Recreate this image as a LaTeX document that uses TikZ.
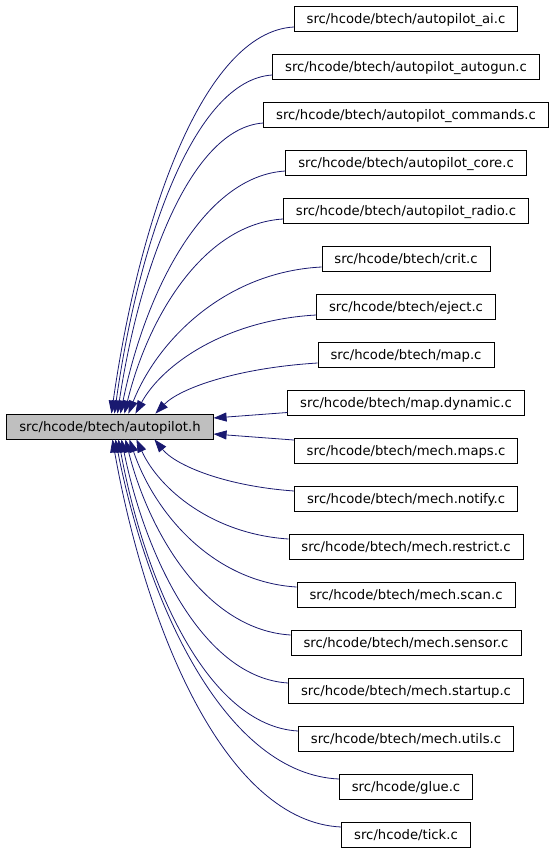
\documentclass[tikz,border=0pt]{standalone}
\usepackage{fontspec}
\setmainfont{DejaVu Sans}
\usetikzlibrary{arrows.meta,calc}
\definecolor{edgeblue}{HTML}{191970}
\definecolor{mainfill}{HTML}{BFBFBF}
\newcommand\upedge[2]{%
  \draw[edge] let \p1=($(#1.west)+(0,8)$), \p2=($(main.north west)+(#2,0)$),
    \n1={\x1-\x2}, \n2={\y1-\y2} in
    (\p1) .. controls +({-0.5*\n1*1pt},{-5pt}) and +({0.15*\n1*1pt},{0.5*\n2*1pt}) .. (\p2);}
\newcommand\downedge[2]{%
  \draw[edge] let \p1=($(#1.west)+(0,-8)$), \p2=($(main.south west)+(#2,0)$),
    \n1={\x1-\x2}, \n2={\y2-\y1} in
    (\p1) .. controls +({-0.5*\n1*1pt},{5pt}) and +({0.15*\n1*1pt},{-0.5*\n2*1pt}) .. (\p2);}
\begin{document}
\begin{tikzpicture}[x=1pt,y=-1pt,
  filebox/.style={draw=black,line width=0.8pt,fill=white,inner xsep=12.5pt,inner ysep=0pt,
    minimum height=25pt,font=\fontsize{13.2pt}{15pt}\selectfont,text height=10.5pt,text depth=1.5pt},
  mainbox/.style={filebox,fill=mainfill},
  edge/.style={draw=edgeblue,line width=0.8pt,-{Triangle[length=13pt,width=9pt]}}]
\useasboundingbox (0,0) rectangle (555,851);
\node[mainbox] (main) at (110,426.5) {src/hcode/btech/autopilot.h};
\foreach \i/\t in {1/{src/hcode/btech/autopilot\_ai.c},
  2/{src/hcode/btech/autopilot\_autogun.c},
  3/{src/hcode/btech/autopilot\_commands.c},
  4/{src/hcode/btech/autopilot\_core.c},
  5/{src/hcode/btech/autopilot\_radio.c},
  6/{src/hcode/btech/crit.c},
  7/{src/hcode/btech/eject.c},
  8/{src/hcode/btech/map.c},
  9/{src/hcode/btech/map.dynamic.c},
  10/{src/hcode/btech/mech.maps.c},
  11/{src/hcode/btech/mech.notify.c},
  12/{src/hcode/btech/mech.restrict.c},
  13/{src/hcode/btech/mech.scan.c},
  14/{src/hcode/btech/mech.sensor.c},
  15/{src/hcode/btech/mech.startup.c},
  16/{src/hcode/btech/mech.utils.c},
  17/{src/hcode/glue.c},
  18/{src/hcode/tick.c}}
  \node[filebox] (n\i) at (406,{19+48*(\i-1)}) {\t};
\upedge{n1}{105}
\upedge{n2}{108}
\upedge{n3}{111}
\upedge{n4}{114}
\upedge{n5}{118}
\upedge{n6}{122}
\upedge{n7}{129}
\upedge{n8}{149}
\draw[edge] ($(n9.west)+(0,9.5)$) -- ($(main.east)+(0,-8.5)$);
\draw[edge] ($(n10.west)+(0,-11)$) -- ($(main.east)+(0,7.5)$);
\downedge{n11}{148}
\downedge{n12}{130}
\downedge{n13}{123}
\downedge{n14}{119}
\downedge{n15}{115}
\downedge{n16}{112}
\downedge{n17}{109}
\downedge{n18}{106}
\end{tikzpicture}
\end{document}
